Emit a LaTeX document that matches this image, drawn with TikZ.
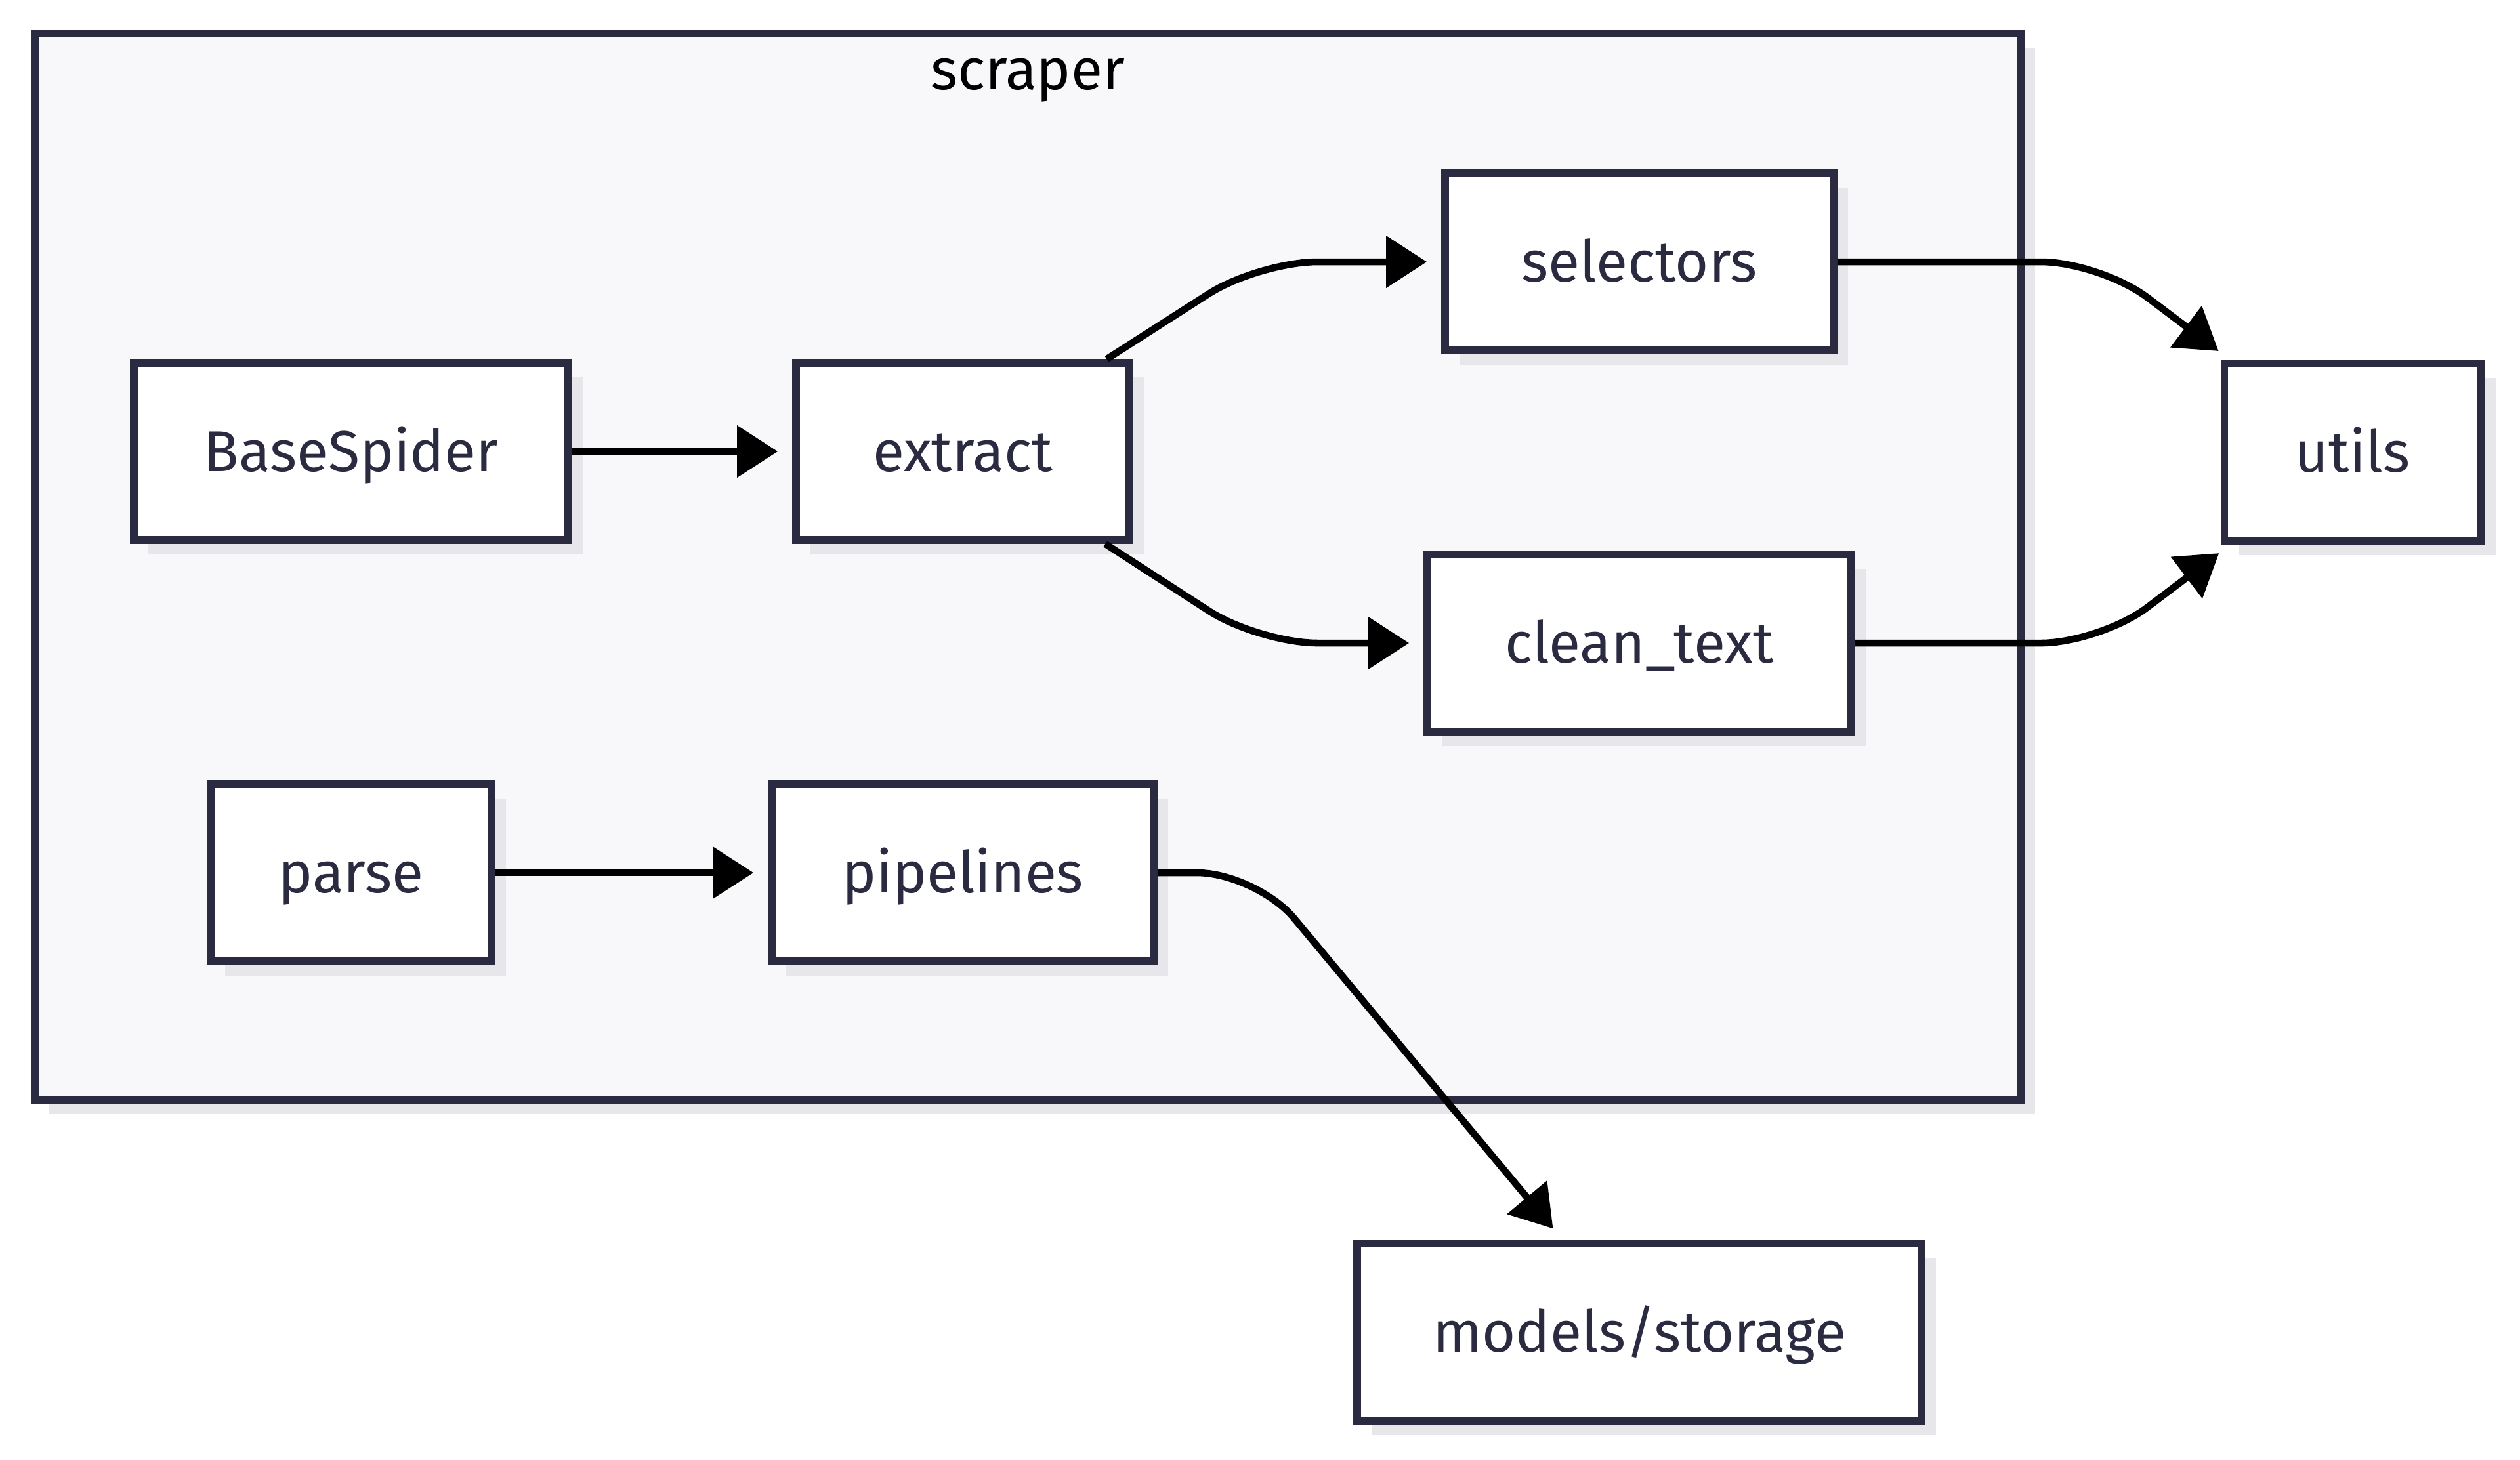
\documentclass[tikz,border=0pt]{standalone}
\usepackage{fontspec}
\setmainfont{Fira Sans}
\usetikzlibrary{arrows.meta}
\usetikzlibrary{shadows}

\definecolor{inkblue}{HTML}{2A2A40}
\definecolor{clusterfill}{HTML}{F8F8FA}
\definecolor{shadowgrey}{HTML}{E7E7EB}

\tikzset{
  module/.style={draw=inkblue, line width=3.3pt, fill=white, text=inkblue,
    minimum height=2.7cm, inner sep=0pt, text height=17.5pt, text depth=0pt,
    font=\fontsize{25}{30}\selectfont,
    drop shadow={shadow xshift=0.22cm, shadow yshift=-0.22cm, fill=shadowgrey, opacity=1}},
  clusterbox/.style={draw=inkblue, line width=3.3pt, fill=clusterfill, inner sep=0pt,
    drop shadow={shadow xshift=0.22cm, shadow yshift=-0.22cm, fill=shadowgrey, opacity=1}},
  link/.style={line width=3pt, rounded corners=0.9cm, shorten >=0.22cm,
    -{Triangle[length=0.62cm, width=0.77cm]}}
}

\begin{document}
\begin{tikzpicture}
    \useasboundingbox (0,0) rectangle (38.4,-22.24);
    % subgraph
    \node[clusterbox, minimum width=30.26cm, minimum height=16.25cm] (scraper) at (15.66,-8.635) {};
    \node[font=\fontsize{25}{30}\selectfont, text=black] (scrapertitle) at (15.66,-1.22) {scraper};

    % modules
    \node[module, minimum width=6.62cm] (base)      at (5.35,-6.88)   {BaseSpider};
    \node[module, minimum width=5.08cm] (extract)   at (14.67,-6.88)  {extract};
    \node[module, minimum width=5.92cm] (selectors) at (24.98,-3.99)  {selectors};
    \node[module, minimum width=6.46cm] (cleantext) at (24.98,-9.80)  {clean\_text};
    \node[module, minimum width=3.91cm] (utils)     at (35.85,-6.89)  {utils};
    \node[module, minimum width=4.28cm] (parse)     at (5.35,-13.30)  {parse};
    \node[module, minimum width=5.82cm] (pipelines) at (14.67,-13.30) {pipelines};
    \node[module, minimum width=8.60cm] (storage)   at (24.98,-20.30) {models/storage};

    % dependencies
    \draw[link] (base) -- (extract);
    \draw[link] (extract) -- (19.18,-3.99) -- (selectors.west);
    \draw[link] (extract) -- (19.18,-9.80) -- (cleantext.west);
    \draw[link] (selectors.east) -- (32.0,-3.99) -- (utils);
    \draw[link] (cleantext.east) -- (32.0,-9.80) -- (utils);
    \draw[link] (parse) -- (pipelines);
    \draw[link] (pipelines.east) -- (19.14,-13.30) -- (storage);
\end{tikzpicture}
\end{document}
